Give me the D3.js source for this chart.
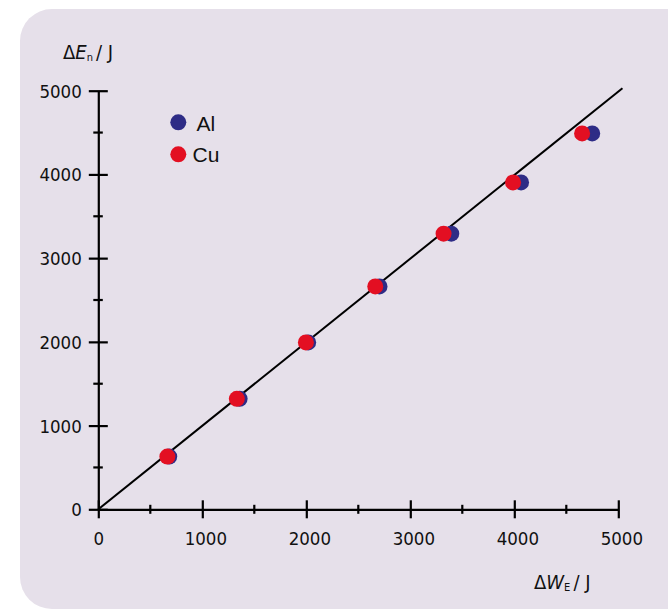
<!DOCTYPE html>
<html>
<head>
<meta charset="utf-8">
<script src="https://cdn.jsdelivr.net/npm/d3@7"></script>
<style>
  html, body { margin: 0; padding: 0; background: #ffffff; }
  svg { display: block; }
</style>
</head>
<body>
<svg id="chart" width="668" height="610"></svg>
<script>
// ---- data ----
const seriesNames = ["Al", "Cu"];
const seriesColors = ["#2e2c86", "#e30f22"];
const yValues = [630, 1320, 1993, 2662, 3292, 3904, 4490];   // ΔE_n / J
const alX = [682, 1359, 2018, 2704, 3394, 4065, 4749];        // ΔW_E / J (Al)
const cuX = [664, 1332, 1996, 2663, 3320, 3988, 4652];        // ΔW_E / J (Cu)
const lineX = [0, 5040];
const lineY = [0, 5030];
const xTicks = [0, 1000, 2000, 3000, 4000, 5000];
const yTicks = [0, 1000, 2000, 3000, 4000, 5000];
const minorTicks = [500, 1500, 2500, 3500, 4500];

const svg = d3.select("#chart");
const font = "'DejaVu Sans Condensed', 'DejaVu Sans', sans-serif";

// background panel
svg.append("rect")
  .attr("x", 20).attr("y", 9)
  .attr("width", 720).attr("height", 600)
  .attr("rx", 32).attr("ry", 32)
  .attr("fill", "#e6e0ea");

const x = d3.scaleLinear().domain([0, 5000]).range([98.3, 618.3]);
const y = d3.scaleLinear().domain([0, 5000]).range([509.3, 90.7]);

// x axis
const gx = svg.append("g").attr("transform", `translate(0,${y(0)})`)
  .call(d3.axisBottom(x).tickValues(xTicks).tickSizeOuter(0).tickSizeInner(9).tickFormat(d3.format("d")));
gx.select(".domain").attr("stroke", "#000").attr("stroke-width", 2.2);
gx.selectAll(".tick line").attr("y1", -9).attr("y2", 9).attr("stroke", "#000").attr("stroke-width", 2.2);
gx.selectAll(".tick text")
  .attr("y", 23).attr("dy", "0.71em")
  .attr("dx", d => d === 0 ? 0 : 3)
  .attr("fill", "#111")
  .style("font-family", font).style("font-size", "18.5px").style("font-stretch", "condensed");
gx.selectAll(".minor").data(minorTicks).enter().append("line")
  .attr("x1", d => x(d)).attr("x2", d => x(d))
  .attr("y1", -4.5).attr("y2", 4.5)
  .attr("stroke", "#000").attr("stroke-width", 2.2);

// y axis
const gy = svg.append("g").attr("transform", `translate(${x(0)},0)`)
  .call(d3.axisLeft(y).tickValues(yTicks).tickSizeOuter(0).tickSizeInner(9.5).tickFormat(d3.format("d")));
gy.select(".domain").attr("stroke", "#000").attr("stroke-width", 2.2);
gy.selectAll(".tick line").attr("x1", -9.5).attr("x2", 9.5).attr("stroke", "#000").attr("stroke-width", 2.2);
gy.selectAll(".tick text")
  .attr("x", -16.5).attr("dy", "0.35em")
  .attr("fill", "#111")
  .style("font-family", font).style("font-size", "18.5px").style("font-stretch", "condensed");
gy.selectAll(".minor").data(minorTicks).enter().append("line")
  .attr("y1", d => y(d)).attr("y2", d => y(d))
  .attr("x1", -5).attr("x2", 4.5)
  .attr("stroke", "#000").attr("stroke-width", 2.2);

// diagonal reference line
svg.append("path")
  .datum(lineX.map((d, i) => [d, lineY[i]]))
  .attr("d", d3.line().x(d => x(d[0])).y(d => y(d[1])))
  .attr("fill", "none").attr("stroke", "#000").attr("stroke-width", 2);

// points: Al under Cu
const series = [alX, cuX];
series.forEach((xs, si) => {
  svg.append("g").selectAll("circle")
    .data(xs.map((d, i) => [d, yValues[i]]))
    .enter().append("circle")
    .attr("cx", d => x(d[0])).attr("cy", d => y(d[1]))
    .attr("r", 8)
    .attr("fill", seriesColors[si]);
});

// legend
const lg = svg.append("g");
seriesNames.forEach((name, i) => {
  lg.append("circle").attr("cx", 178.3).attr("cy", 122.3 + i * 32).attr("r", 8).attr("fill", seriesColors[i]);
  lg.append("text").attr("x", i === 0 ? 196.5 : 192.5).attr("y", 130.5 + i * 31.5)
    .text(name)
    .style("font-family", "'Liberation Sans', Arial, sans-serif").style("font-size", "21px")
    .attr("fill", "#111");
});

// axis titles
function axisTitle(xp, yp) {
  return svg.append("text").attr("x", xp).attr("y", yp)
    .style("font-family", font).style("font-size", "20px").style("font-stretch", "condensed")
    .attr("fill", "#111");
}
const ty = axisTitle(63, 59);
ty.append("tspan").text("Δ");
ty.append("tspan").text("E").style("font-style", "italic");
ty.append("tspan").text("n").style("font-size", "11px").attr("dy", 2);
ty.append("tspan").text("/ J").attr("dy", -2).attr("dx", 3);

const tx = axisTitle(534, 589);
tx.append("tspan").text("Δ");
tx.append("tspan").text("W").style("font-style", "italic");
tx.append("tspan").text("E").style("font-size", "11px").attr("dy", 2);
tx.append("tspan").text("/ J").attr("dy", -2).attr("dx", 3);
</script>
</body>
</html>
